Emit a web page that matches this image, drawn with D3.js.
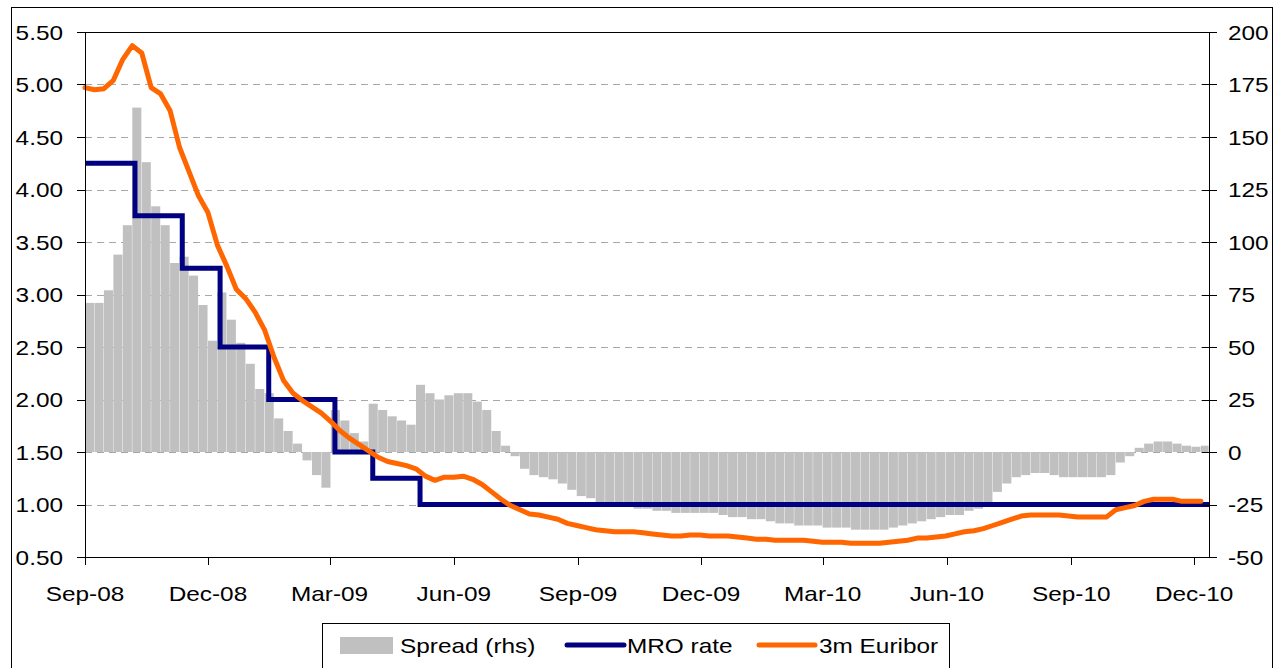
<!DOCTYPE html>
<html><head><meta charset="utf-8">
<script src="https://cdn.jsdelivr.net/npm/d3@7"></script>
<style>
html,body{margin:0;padding:0;background:#fff;}
svg{display:block;font-family:"Liberation Sans",Arial,sans-serif;}
</style></head>
<body>
<svg id="chart" width="1276" height="668"></svg>
<script>
// ---- data ----
const weekStart = Date.UTC(2008, 8, 1);   // first weekly observation (Mon)
const weekEnd   = Date.UTC(2010, 11, 7);  // after last weekly observation
const weeks = d3.utcMonday.range(weekStart, weekEnd);

const euribor = [4.97,4.95,4.96,5.04,5.24,5.37,5.30,4.97,4.91,4.75,
 4.40,4.17,3.94,3.78,3.47,3.27,3.05,2.96,2.83,2.66,
 2.40,2.18,2.06,1.99,1.93,1.87,1.79,1.70,1.63,1.57,
 1.51,1.45,1.41,1.39,1.37,1.34,1.27,1.23,1.26,1.26,
 1.27,1.24,1.19,1.12,1.05,0.99,0.95,0.91,0.90,0.88,
 0.86,0.82,0.80,0.78,0.76,0.75,0.74,0.74,0.74,0.73,
 0.72,0.71,0.70,0.70,0.71,0.71,0.70,0.70,0.70,0.69,
 0.68,0.67,0.67,0.66,0.66,0.66,0.66,0.65,0.64,0.64,
 0.64,0.63,0.63,0.63,0.63,0.64,0.65,0.66,0.68,0.68,
 0.69,0.70,0.72,0.74,0.75,0.77,0.80,0.83,0.86,0.89,
 0.90,0.90,0.90,0.90,0.89,0.88,0.88,0.88,0.88,0.95,
 0.97,0.99,1.03,1.05,1.05,1.05,1.03,1.03,1.03];

const spread = [71,71,77,94,108,164,138,117,108,90,
 93,84,70,53,76,63,52,42,30,28,
 16,10,4,-4,-11,-17,20,15,9,5,
 23,20,17,15,13,32,28,25,27,28,
 28,24,20,10,3,-2,-8,-11,-12,-13,
 -15,-18,-21,-22,-24,-25,-25,-26,-27,-27,
 -28,-28,-29,-29,-29,-29,-29,-30,-31,-31,
 -32,-32,-33,-34,-34,-35,-35,-35,-36,-36,
 -36,-37,-37,-37,-37,-36,-35,-34,-33,-32,
 -31,-30,-30,-28,-27,-24,-19,-15,-12,-11,
 -10,-10,-11,-12,-12,-12,-12,-12,-11,-5,
 -2,2,4,5,5,4,3,2.5,3];

const mroDates = ["2008-09-01","2008-10-08","2008-11-12","2008-12-10","2009-01-15","2009-03-05","2009-04-02","2009-05-07","2010-12-12"];
const mroRates = [4.25,3.75,3.25,2.50,2.00,1.50,1.25,1.00,1.00];

const xTickDates = ["2008-09-01","2008-12-01","2009-03-01","2009-06-01","2009-09-01","2009-12-01","2010-03-01","2010-06-01","2010-09-01","2010-12-01"];
const xTickLabels = ["Sep-08","Dec-08","Mar-09","Jun-09","Sep-09","Dec-09","Mar-10","Jun-10","Sep-10","Dec-10"];
const leftTicks = [0.5,1.0,1.5,2.0,2.5,3.0,3.5,4.0,4.5,5.0,5.5];
const rightTicks = [-50,-25,0,25,50,75,100,125,150,175,200];
const seriesNames = ["Spread (rhs)","MRO rate","3m Euribor"];

// ---- layout ----
const L = 85, R = 1209, T = 32, B = 557;
const FS = 21, SX = 1.16;
const svg = d3.select("#chart");
const parse = d3.utcParse("%Y-%m-%d");

const x = d3.scaleUtc().domain([parse("2008-09-01"), parse("2010-12-12")]).range([L, R]);
const yL = d3.scaleLinear().domain([0.5, 5.5]).range([B, T]);
const yR = d3.scaleLinear().domain([-50, 200]).range([B, T]);

function label(g, px, py, txt, anchor) {
  g.append("text")
    .attr("transform", `translate(${px},${py}) scale(${SX},1)`)
    .attr("text-anchor", anchor)
    .attr("font-size", FS)
    .attr("fill", "#000")
    .text(txt);
}

// outer border
svg.append("rect").attr("x", 11.5).attr("y", 7.5).attr("width", 1261).attr("height", 700)
  .attr("fill", "none").attr("stroke", "#000").attr("stroke-width", 1);

// gridlines
const grid = svg.append("g");
leftTicks.filter(v => v > 0.5 && v < 5.5).forEach(v => {
  grid.append("line").attr("x1", L).attr("x2", R).attr("y1", Math.round(yL(v)) + 0.5).attr("y2", Math.round(yL(v)) + 0.5)
    .attr("stroke", "#a8a8a8").attr("stroke-width", 1).attr("stroke-dasharray", "7,5");
});
grid.append("line").attr("x1", L).attr("x2", R).attr("y1", T + 0.5).attr("y2", T + 0.5)
  .attr("stroke", "#000").attr("stroke-width", 1);

// spread bars
const bars = svg.append("g");
weeks.forEach((d, i) => {
  const x0 = x(d), x1 = x(d3.utcDay.offset(d, 7));
  const v = spread[i];
  bars.append("rect")
    .attr("x", x0).attr("width", Math.max(0.5, Math.min(x1, R) - x0 - 0.4))
    .attr("y", Math.min(yR(v), yR(0))).attr("height", Math.abs(yR(v) - yR(0)))
    .attr("fill", "#c0c0c0");
});

// MRO step line
const mroLine = d3.line().curve(d3.curveStepAfter)
  .x((d, i) => x(parse(mroDates[i]))).y((d, i) => yL(mroRates[i]));
svg.append("path").datum(mroRates).attr("d", mroLine)
  .attr("fill", "none").attr("stroke", "#000080").attr("stroke-width", 5);

// Euribor line
const eurLine = d3.line().x((d, i) => x(weeks[i])).y(d => yL(d));
svg.append("path").datum(euribor).attr("d", eurLine)
  .attr("fill", "none").attr("stroke", "#ff6600").attr("stroke-width", 5)
  .attr("stroke-linejoin", "round").attr("stroke-linecap", "round");

// axes
const ax = svg.append("g").attr("stroke", "#000").attr("stroke-width", 1);
ax.append("line").attr("x1", L + 0.5).attr("x2", L + 0.5).attr("y1", T).attr("y2", B + 1);
ax.append("line").attr("x1", R + 0.5).attr("x2", R + 0.5).attr("y1", T).attr("y2", B + 1);
ax.append("line").attr("x1", L).attr("x2", R + 1).attr("y1", B + 0.5).attr("y2", B + 0.5);

const txt = svg.append("g");
leftTicks.forEach(v => {
  const py = Math.round(yL(v)) + 0.5;
  ax.append("line").attr("x1", L - 8).attr("x2", L).attr("y1", py).attr("y2", py);
  label(txt, 63, yL(v) + 7.5, d3.format(".2f")(v), "end");
});
rightTicks.forEach(v => {
  const py = Math.round(yR(v)) + 0.5;
  ax.append("line").attr("x1", R - 7).attr("x2", R + 8).attr("y1", py).attr("y2", py);
  label(txt, 1228, yR(v) + 7.5, String(v), "start");
});
xTickDates.forEach((s, i) => {
  const px = Math.round(x(parse(s))) + 0.5;
  ax.append("line").attr("x1", px).attr("x2", px).attr("y1", B).attr("y2", B + 8);
  label(txt, x(parse(s)), 601, xTickLabels[i], "middle");
});

// legend
const lg = svg.append("g");
lg.append("rect").attr("x", 322.5).attr("y", 623.5).attr("width", 627).attr("height", 60)
  .attr("fill", "#fff").attr("stroke", "#000").attr("stroke-width", 1);
lg.append("rect").attr("x", 340).attr("y", 637).attr("width", 53).attr("height", 17).attr("fill", "#c0c0c0");
label(lg, 400, 653, seriesNames[0], "start");
lg.append("line").attr("x1", 567).attr("x2", 624).attr("y1", 645).attr("y2", 645)
  .attr("stroke", "#000080").attr("stroke-width", 5).attr("stroke-linecap", "round");
label(lg, 627, 653, seriesNames[1], "start");
lg.append("line").attr("x1", 759).attr("x2", 815).attr("y1", 645).attr("y2", 645)
  .attr("stroke", "#ff6600").attr("stroke-width", 5).attr("stroke-linecap", "round");
label(lg, 819, 653, seriesNames[2], "start");
</script>
</body></html>
